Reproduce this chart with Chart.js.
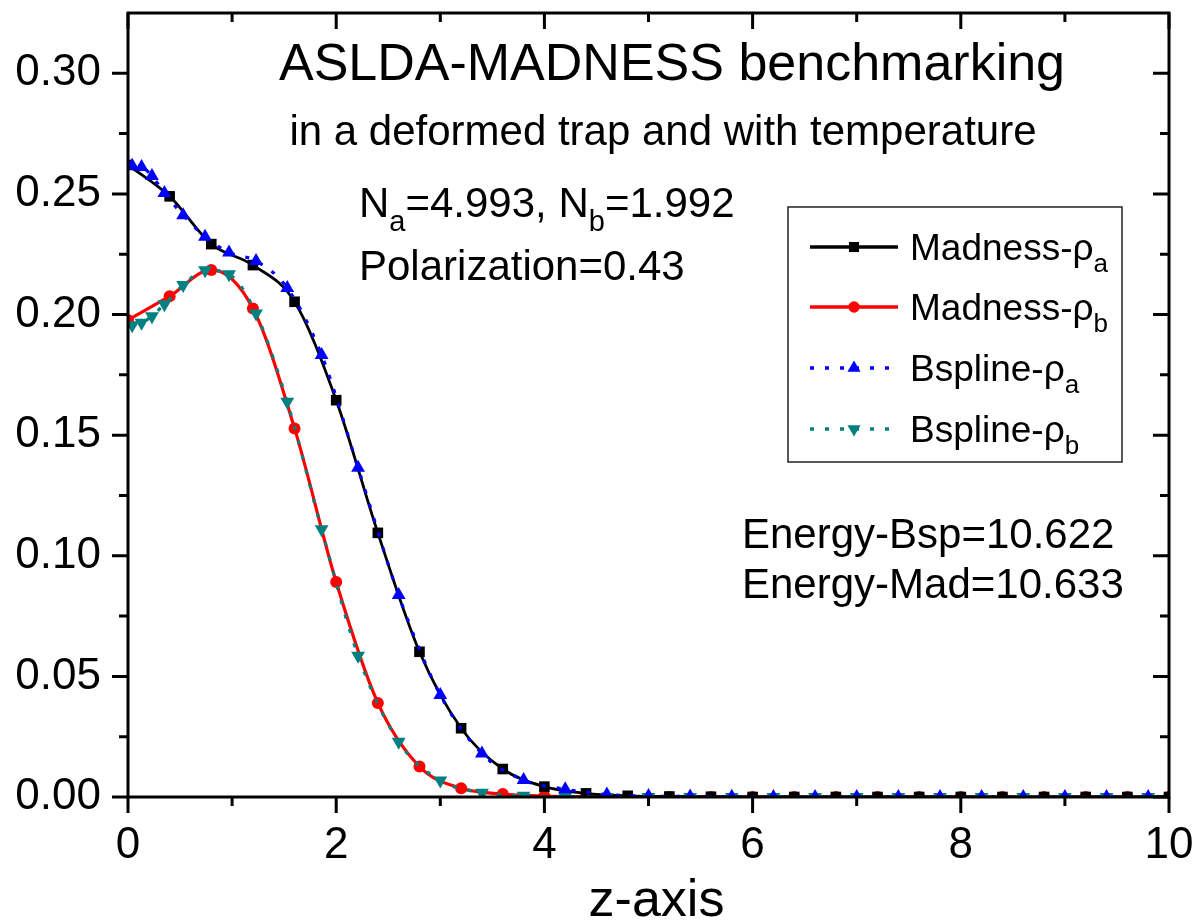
<!DOCTYPE html>
<html>
<head>
<meta charset="utf-8">
<script src="https://cdn.jsdelivr.net/npm/chart.js@4.4.0/dist/chart.umd.min.js"></script>
<style>
  html, body { margin: 0; padding: 0; background: #fff; }
  #wrap { width: 1196px; height: 923px; }
</style>
</head>
<body>
<div id="wrap"><canvas id="c" width="1196" height="923"></canvas></div>
<script>
'use strict';

// ---- Data ----
const madX = [0, 0.4, 0.8, 1.2, 1.6, 2.0, 2.4, 2.8, 3.2, 3.6, 4.0, 4.4, 4.8,
              5.2, 5.6, 6.0, 6.4, 6.8, 7.2, 7.6, 8.0, 8.4, 8.8, 9.2, 9.6, 10.0];
const madRhoA = [0.262, 0.249, 0.2292, 0.2205, 0.2053, 0.1645, 0.1095, 0.0602, 0.0285,
                 0.0116, 0.0043, 0.0015, 0.0005, 0.0002, 0.0001, 0, 0, 0, 0, 0, 0, 0, 0, 0, 0, 0];
const madRhoB = [0.1977, 0.2076, 0.2185, 0.2025, 0.1528, 0.0891, 0.039, 0.0126, 0.0036,
                 0.0012, 0.0004, 0.0001, 0, 0, 0, 0, 0, 0, 0, 0, 0, 0, 0, 0, 0, 0];

const bspX = [0.04, 0.13, 0.23, 0.35, 0.53, 0.74, 0.97, 1.23, 1.53, 1.86, 2.21, 2.6, 3.0,
              3.4, 3.8, 4.2, 4.6, 5.0, 5.4, 5.8, 6.2, 6.6, 7.0, 7.4, 7.8, 8.2, 8.6, 9.0, 9.4, 9.8];
const bspRhoA = [0.2617, 0.2612, 0.2574, 0.2504, 0.2412, 0.2322, 0.2257, 0.2222, 0.211, 0.1832,
                 0.1365, 0.0837, 0.0423, 0.018, 0.007, 0.0032, 0.001, 0.0004, 0.0002, 0.0001,
                 0, 0, 0, 0, 0, 0, 0, 0, 0, 0];
const bspRhoB = [0.1956, 0.1966, 0.1993, 0.2043, 0.2122, 0.2184, 0.2167, 0.2004, 0.1638, 0.111,
                 0.0586, 0.0229, 0.0068, 0.0018, 0.0005, 0.0001, 0, 0, 0, 0,
                 0, 0, 0, 0, 0, 0, 0, 0, 0, 0];

// series names: text after "_" is drawn as subscript
const seriesNames = ['Madness-ρ_a', 'Madness-ρ_b', 'Bspline-ρ_a', 'Bspline-ρ_b'];

// ---- Axes ----
const xMajor = [0, 2, 4, 6, 8, 10];
const xMinor = [1, 3, 5, 7, 9];
const yMajor = [0, 0.05, 0.10, 0.15, 0.20, 0.25, 0.30];
const yMinor = [0.025, 0.075, 0.125, 0.175, 0.225, 0.275];
const xTitle = 'z-axis';

// ---- Annotations ----
const titleText = 'ASLDA-MADNESS benchmarking';
const subtitleText = 'in a deformed trap and with temperature';
const countsText = 'N_a=4.993, N_b=1.992';
const polText = 'Polarization=0.43';
const energyTexts = ['Energy-Bsp=10.622', 'Energy-Mad=10.633'];

const FONT = "'Liberation Sans', Arial, Helvetica, sans-serif";

function pts(xs, ys) {
  return xs.map((x, i) => ({ x, y: ys[i] }));
}

// split "Madness-ρ_a" into runs, subscript after "_"
function runs(str, size) {
  const out = [];
  const re = /_([A-Za-z0-9]+)/g;
  let last = 0, m;
  while ((m = re.exec(str)) !== null) {
    if (m.index > last) out.push({ t: str.slice(last, m.index), size, dy: 0 });
    out.push({ t: m[1], size: Math.round(size * 0.7), dy: Math.round(size * 0.33) });
    last = m.index + m[0].length;
  }
  if (last < str.length) out.push({ t: str.slice(last), size, dy: 0 });
  return out;
}

function drawRuns(ctx, list, x, y) {
  let cx = x;
  for (const r of list) {
    ctx.font = `${r.size}px ${FONT}`;
    ctx.fillText(r.t, cx, y + r.dy);
    cx += ctx.measureText(r.t).width;
  }
  return cx;
}

// ---- Frame, minor/major ticks on all four sides ----
const framePlugin = {
  id: 'frame',
  afterDraw(chart) {
    const { ctx, chartArea: a, scales: { x, y } } = chart;
    ctx.save();
    ctx.strokeStyle = '#000';
    ctx.lineWidth = 3;
    ctx.strokeRect(a.left, a.top, a.right - a.left, a.bottom - a.top);
    ctx.beginPath();
    const yTick = (v, len) => {
      const py = y.getPixelForValue(v);
      ctx.moveTo(a.left, py); ctx.lineTo(a.left - len, py);
      ctx.moveTo(a.right, py); ctx.lineTo(a.right - len, py);
    };
    const xTick = (v, len) => {
      const px = x.getPixelForValue(v);
      ctx.moveTo(px, a.bottom); ctx.lineTo(px, a.bottom + len);
      ctx.moveTo(px, a.top); ctx.lineTo(px, a.top + len);
    };
    yMajor.forEach(v => yTick(v, 16));
    yMinor.forEach(v => yTick(v, 9));
    xMajor.forEach(v => xTick(v, 16));
    xMinor.forEach(v => xTick(v, 9));
    ctx.stroke();
    ctx.restore();
  }
};

// ---- Texts and legend box ----
const textPlugin = {
  id: 'texts',
  afterDraw(chart) {
    const { ctx, chartArea: a } = chart;
    ctx.save();
    ctx.fillStyle = '#000';
    ctx.textBaseline = 'alphabetic';
    ctx.textAlign = 'left';

    ctx.font = `52px ${FONT}`;
    let w = ctx.measureText(titleText).width;
    ctx.fillText(titleText, 672 - w / 2, 80);

    ctx.font = `42px ${FONT}`;
    w = ctx.measureText(subtitleText).width;
    ctx.fillText(subtitleText, 663 - w / 2, 145);

    drawRuns(ctx, runs(countsText, 42), 359, 217);
    drawRuns(ctx, runs(polText, 42), 359, 280);
    drawRuns(ctx, runs(energyTexts[0], 42), 742, 548);
    drawRuns(ctx, runs(energyTexts[1], 42), 742, 598);

    ctx.font = `52px ${FONT}`;
    w = ctx.measureText(xTitle).width;
    ctx.fillText(xTitle, (a.left + a.right) / 2 + 8 - w / 2, 916);

    // legend
    const box = { l: 788, t: 207, r: 1122, b: 462 };
    ctx.fillStyle = '#fff';
    ctx.fillRect(box.l, box.t, box.r - box.l, box.b - box.t);
    ctx.strokeStyle = '#222';
    ctx.lineWidth = 1.5;
    ctx.strokeRect(box.l, box.t, box.r - box.l, box.b - box.t);
    const rowY = [247, 307, 368, 429];
    chart.data.datasets.forEach((ds, k) => {
      const cy = rowY[k];
      ctx.save();
      ctx.strokeStyle = ds.borderColor;
      ctx.lineWidth = ds.borderWidth + 0.5;
      ctx.setLineDash(ds.borderDash || []);
      ctx.beginPath();
      ctx.moveTo(810, cy); ctx.lineTo(898, cy);
      ctx.stroke();
      ctx.setLineDash([]);
      ctx.fillStyle = ds.pointBackgroundColor;
      ctx.strokeStyle = ds.pointBackgroundColor;
      Chart.helpers.drawPoint(ctx, {
        pointStyle: ds.pointStyle, rotation: ds.pointRotation || 0,
        radius: ds.pointRadius * 0.95, borderWidth: 0
      }, 854, cy);
      ctx.restore();
      ctx.fillStyle = '#000';
      drawRuns(ctx, runs(seriesNames[k], 37), 910, cy + 13);
    });
    ctx.restore();
  }
};

const tickFont = { family: FONT, size: 44 };

function noPad(s) {
  s.paddingTop = 0; s.paddingBottom = 0; s.paddingLeft = 0; s.paddingRight = 0;
}

new Chart(document.getElementById('c'), {
  type: 'line',
  data: {
    datasets: [
      {
        label: seriesNames[0], data: pts(madX, madRhoA), order: 1,
        borderColor: '#000000', borderWidth: 2.8, pointStyle: 'rect', pointRadius: 7.5,
        pointBackgroundColor: '#000000', pointBorderWidth: 0, cubicInterpolationMode: 'monotone'
      },
      {
        label: seriesNames[1], data: pts(madX, madRhoB), order: 1,
        borderColor: '#ff0000', borderWidth: 3.2, pointStyle: 'circle', pointRadius: 6,
        pointBackgroundColor: '#ff0000', pointBorderWidth: 0, cubicInterpolationMode: 'monotone'
      },
      {
        label: seriesNames[2], data: pts(bspX, bspRhoA), order: 0,
        borderColor: '#0000ff', borderWidth: 3.2, borderDash: [4, 11], pointStyle: 'triangle',
        pointRadius: 8, pointBackgroundColor: '#0000ff', pointBorderWidth: 0,
        cubicInterpolationMode: 'monotone'
      },
      {
        label: seriesNames[3], data: pts(bspX, bspRhoB), order: 0,
        borderColor: '#008080', borderWidth: 3.2, borderDash: [4, 11], pointStyle: 'triangle',
        pointRotation: 180, pointRadius: 8, pointBackgroundColor: '#008080', pointBorderWidth: 0,
        cubicInterpolationMode: 'monotone'
      }
    ]
  },
  options: {
    responsive: false,
    animation: false,
    layout: { padding: { top: 13, right: 27, left: 0, bottom: 0 } },
    plugins: { legend: { display: false }, tooltip: { enabled: false } },
    scales: {
      x: {
        type: 'linear', min: 0, max: 10,
        afterFit: s => { s.height = 126; noPad(s); },
        afterBuildTicks: s => { s.ticks = xMajor.map(v => ({ value: v })); },
        ticks: { padding: 22, font: tickFont, color: '#000', maxRotation: 0, autoSkip: false },
        grid: { display: false, drawTicks: false },
        border: { display: false }
      },
      y: {
        type: 'linear', min: 0, max: 0.325,
        afterFit: s => { s.width = 128; noPad(s); },
        afterBuildTicks: s => { s.ticks = yMajor.map(v => ({ value: v })); },
        ticks: {
          padding: 27, font: tickFont, color: '#000', autoSkip: false,
          callback: v => Number(v).toFixed(2)
        },
        grid: { display: false, drawTicks: false },
        border: { display: false }
      }
    }
  },
  plugins: [framePlugin, textPlugin]
});
</script>
</body>
</html>
